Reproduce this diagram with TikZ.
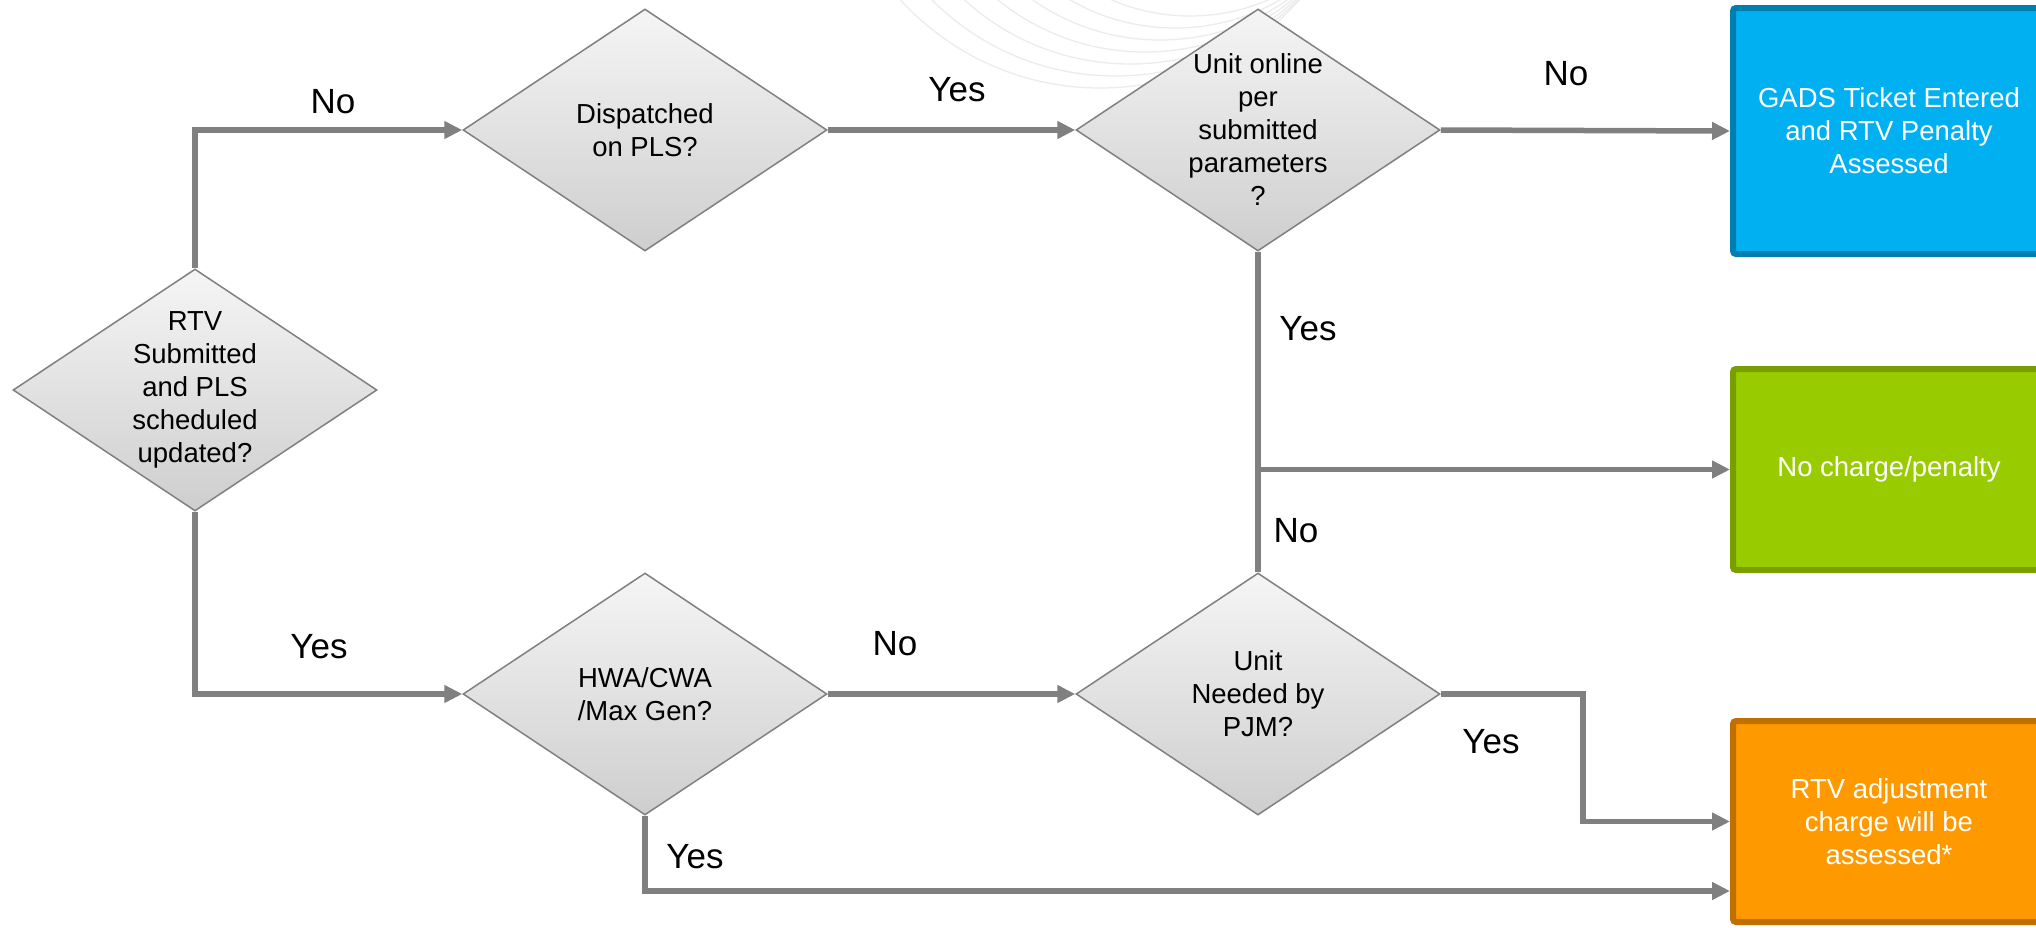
\documentclass[tikz,border=0pt]{standalone}
\usepackage{fontspec}
\setmainfont{Liberation Sans}
\usetikzlibrary{shapes.geometric,arrows.meta}
\definecolor{lineg}{RGB}{128,128,128}
\definecolor{dtop}{RGB}{245,245,245}
\definecolor{dbot}{RGB}{206,206,206}
\definecolor{dborder}{RGB}{128,128,128}
\definecolor{bluefill}{RGB}{0,176,240}
\definecolor{blueline}{RGB}{0,126,176}
\definecolor{greenfill}{RGB}{153,204,0}
\definecolor{greenline}{RGB}{120,158,0}
\definecolor{orangefill}{RGB}{255,153,0}
\definecolor{orangeline}{RGB}{192,112,0}
\definecolor{arcg}{RGB}{236,236,236}
\begin{document}
\begin{tikzpicture}[x=1pt,y=-1pt,
  dia/.style={shape=diamond, draw=dborder, line width=1.5pt, top color=dtop, bottom color=dbot,
    minimum width=364pt, minimum height=242pt, inner sep=0pt},
  dtext/.style={font=\fontsize{27.5}{33}\selectfont, align=center, text=black, inner sep=0pt},
  outbox/.style={rectangle, line width=6pt, minimum width=312pt, anchor=west, rounded corners=3pt,
    text=white, font=\fontsize{27.5}{33}\selectfont, align=center},
  lbl/.style={font=\fontsize{35}{40}\selectfont, text=black, inner sep=0pt},
  conn/.style={draw=lineg, line width=5.5pt},
  arr/.style={conn, -{Triangle[length=18pt,width=17pt]}},
]
\useasboundingbox (0,0) rectangle (2036,927);
\clip (0,0) rectangle (2036,927);
\fill[white] (0,0) rectangle (2036,927);

% faint background arcs
\begin{scope}
  \clip (850,0) rectangle (1330,100);
  \foreach \i in {0,...,6}
    \draw[arcg, line width=1.3pt] ({1100+15*\i},-182) circle ({270-12*\i});
\end{scope}

% decision diamonds
\node[dia, label={[dtext]center:{RTV\\Submitted\\and PLS\\scheduled\\updated?}}] (d1) at (195,390) {};
\node[dia, label={[dtext]center:{Dispatched\\on PLS?}}] (d2) at (645,130) {};
\node[dia, label={[dtext]center:{Unit online\\per\\submitted\\parameters\\?}}] (d3) at (1258,130) {};
\node[dia, label={[dtext]center:{HWA/CWA\\/Max Gen?}}] (d4) at (645,694) {};
\node[dia, label={[dtext]center:{Unit\\Needed by\\PJM?}}] (d5) at (1258,694) {};

% outcome boxes
\node[outbox, draw=blueline, fill=bluefill, minimum height=246pt] (gads) at (1730,131)
  {GADS Ticket Entered\\and RTV Penalty\\Assessed};
\node[outbox, draw=greenline, fill=greenfill, minimum height=201pt] (nocharge) at (1730,469.5)
  {No charge/penalty};
\node[outbox, draw=orangeline, fill=orangefill, minimum height=201pt] (rtv) at (1730,821.5)
  {RTV adjustment\\charge will be\\assessed*};

% helper corners
\coordinate (k1) at (1583,694);
\coordinate (k2) at (645,891);

% connectors
\draw[arr] (d1.north) |- (d2.west);
\draw[arr] (d2.east) -- (d3.west);
\draw[arr] (d3.east) -- (gads.west);
\draw[arr] (d3.south) |- (nocharge.west);
\draw[conn] (d5.north) -- (d5.north |- nocharge.west);
\draw[arr] (d1.south) |- (d4.west);
\draw[arr] (d4.east) -- (d5.west);
\draw[arr] (d5.east) -- (k1) |- (rtv.west);
\draw[arr] (d4.south) -- (k2) -- (rtv.west |- k2);

% connector labels
\node[lbl] (l1) at (333,102) {No};
\node[lbl] (l2) at (957,90) {Yes};
\node[lbl] (l3) at (1566,74) {No};
\node[lbl] (l4) at (1308,329) {Yes};
\node[lbl] (l5) at (1296,531) {No};
\node[lbl] (l6) at (319,647) {Yes};
\node[lbl] (l7) at (895,644) {No};
\node[lbl] (l8) at (1491,742) {Yes};
\node[lbl] (l9) at (695,857) {Yes};
\end{tikzpicture}
\end{document}
